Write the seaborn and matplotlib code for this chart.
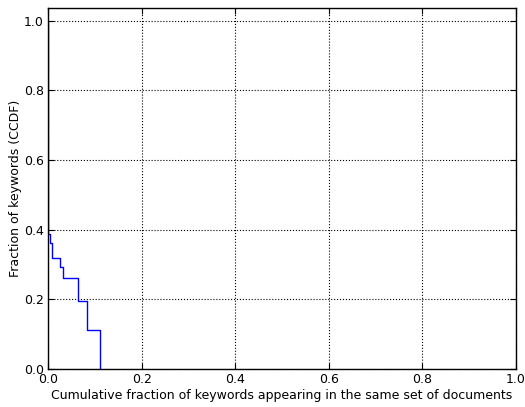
import numpy as np
import pandas as pd
import matplotlib
matplotlib.use('Agg')
import matplotlib.pyplot as plt
import seaborn as sns

# CCDF steps
frac_same_docs = [0.0, 0.001, 0.004, 0.0092, 0.026, 0.033, 0.064, 0.0825, 0.112]
frac_keywords = [1.0, 0.387, 0.361, 0.320, 0.294, 0.260, 0.196, 0.113, 0.0]
xticks = [0.0, 0.2, 0.4, 0.6, 0.8, 1.0]
yticks = [0.0, 0.2, 0.4, 0.6, 0.8, 1.0]

sns.set_style('white')
plt.rcParams['font.family'] = ['DejaVu Sans']
plt.rcParams['text.color'] = 'black'
plt.rcParams['axes.labelcolor'] = 'black'
plt.rcParams['xtick.color'] = 'black'
plt.rcParams['ytick.color'] = 'black'

df = pd.DataFrame({'x': frac_same_docs, 'y': frac_keywords})

fig = plt.figure(figsize=(5.25, 4.07), dpi=100)
ax = fig.add_axes([0.0914, 0.0934, 0.8916, 0.8866])
sns.lineplot(data=df, x='x', y='y', ax=ax, color='#0000ff', linewidth=1.0,
             drawstyle='steps-post', estimator=None, sort=False)

ax.set_xlim(0, 1.0)
ax.set_ylim(0, 1.036)
ax.set_xticks(xticks)
ax.set_yticks(yticks)
ax.set_xticklabels(['%.1f' % t for t in xticks], fontsize=9)
ax.set_yticklabels(['%.1f' % t for t in yticks], fontsize=9)
ax.tick_params(direction='in', length=4, width=0.8, color='black', top=True, right=True,
               bottom=True, left=True, labeltop=False, labelright=False, pad=3)
ax.grid(True, linestyle=':', color='black', linewidth=0.8)
for s in ax.spines.values():
    s.set_color('black')
    s.set_linewidth(1.0)
ax.set_xlabel('Cumulative fraction of keywords appearing in the same set of documents', fontsize=9, labelpad=2)
ax.set_ylabel('Fraction of keywords (CCDF)', fontsize=9, labelpad=1)

fig.savefig('out.png', dpi=100)
